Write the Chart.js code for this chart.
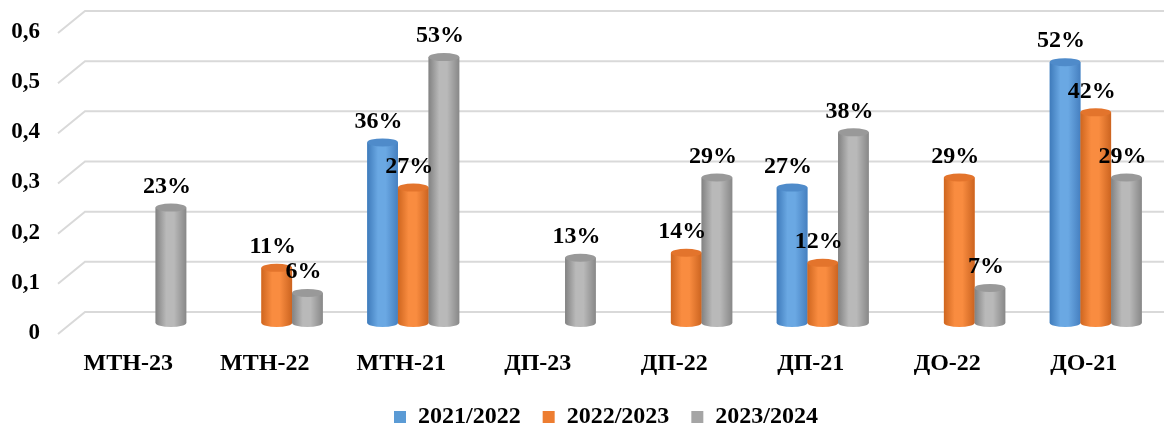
<!DOCTYPE html>
<html><head><meta charset="utf-8">
<script src="https://cdn.jsdelivr.net/npm/chart.js@4"></script>
<style>html,body{margin:0;padding:0;background:#fff}#wrap{width:1164px;height:428px}</style>
</head><body><div id="wrap"><canvas id="c" width="1164" height="428"></canvas></div>
<script>
const categories = ['МТН-23','МТН-22','МТН-21','ДП-23','ДП-22','ДП-21','ДО-22','ДО-21'];
const series2021 = [null, null, 0.36, null, null, 0.27, null, 0.52];
const series2022 = [null, 0.11, 0.27, null, 0.14, 0.12, 0.29, 0.42];
const series2023 = [0.23, 0.06, 0.53, 0.13, 0.29, 0.38, 0.07, 0.29];
const seriesNames = ['2021/2022', '2022/2023', '2023/2024'];
const yMin = 0, yMax = 0.6, yStep = 0.1;

const FONT = "'Liberation Serif','Times New Roman',serif";
const palette = [
  {flat:'#5B9BD5', edgeL:'#3f7bbb', hi:'#6aa8e3', edgeR:'#4680c0', cap:'#4f8bca'},
  {flat:'#ED7D31', edgeL:'#cf661f', hi:'#f98c40', edgeR:'#cc6420', cap:'#e3742c'},
  {flat:'#A5A5A5', edgeL:'#828282', hi:'#b9b9b9', edgeR:'#888888', cap:'#999999'}
];

const cylPlugin = {
  id: 'cyl',
  afterLayout(chart) {
    const lg = chart.legend;
    if (lg) { lg.left -= 12; lg.right -= 12; }
  },
  beforeDatasetsDraw(chart) {
    const ctx = chart.ctx, ys = chart.scales.y;
    ctx.save();
    ctx.strokeStyle = '#d9d9d9';
    ctx.lineWidth = 2;
    ys.ticks.forEach(t => {
      const yp = ys.getPixelForValue(t.value);
      ctx.beginPath();
      ctx.moveTo(58, yp + 11);
      ctx.lineTo(85, yp - 11);
      ctx.lineTo(chart.width, yp - 11);
      ctx.stroke();
    });
    ctx.restore();
  },
  afterDatasetsDraw(chart) {
    const ctx = chart.ctx;
    ctx.save();
    chart.data.datasets.forEach((ds, i) => {
      const meta = chart.getDatasetMeta(i);
      const p = palette[i];
      meta.data.forEach((el, j) => {
        if (ds.data[j] == null) return;
        const {x, y, base, width} = el.getProps(['x','y','base','width'], true);
        const l = x - width/2, r = x + width/2, rx = width/2, ry = 4;
        const g = ctx.createLinearGradient(l, 0, r, 0);
        g.addColorStop(0, p.edgeL);
        g.addColorStop(0.35, p.hi);
        g.addColorStop(0.6, p.hi);
        g.addColorStop(1, p.edgeR);
        ctx.fillStyle = g;
        ctx.beginPath();
        ctx.moveTo(l, y);
        ctx.lineTo(l, base);
        ctx.ellipse(x, base, rx, ry, 0, Math.PI, 0, true);
        ctx.lineTo(r, y);
        ctx.closePath();
        ctx.fill();
        ctx.fillStyle = p.cap;
        ctx.beginPath();
        ctx.ellipse(x, y, rx, ry, 0, 0, Math.PI*2);
        ctx.fill();
      });
    });
    // value labels
    ctx.fillStyle = '#000';
    ctx.font = "bold 24px " + FONT;
    ctx.textAlign = 'center';
    ctx.textBaseline = 'middle';
    chart.data.datasets.forEach((ds, i) => {
      const meta = chart.getDatasetMeta(i);
      meta.data.forEach((el, j) => {
        const v = ds.data[j];
        if (v == null) return;
        const {x, y} = el.getProps(['x','y'], true);
        ctx.fillText(Math.round(v*100) + '%', x - 4, y - 21);
      });
    });
    ctx.restore();
  }
};

new Chart(document.getElementById('c'), {
  type: 'bar',
  data: {
    labels: categories,
    datasets: [
      {label: seriesNames[0], data: series2021, backgroundColor: palette[0].flat},
      {label: seriesNames[1], data: series2022, backgroundColor: palette[1].flat},
      {label: seriesNames[2], data: series2023, backgroundColor: palette[2].flat}
    ]
  },
  options: {
    responsive: false,
    animation: false,
    layout: {padding: {top: 22, bottom: 0, left: 0, right: 0}},
    datasets: {bar: {categoryPercentage: 0.674, barPercentage: 1}},
    plugins: {
      tooltip: {enabled: false},
      legend: {
        position: 'bottom',
        fullSize: false,
        maxHeight: 45,
        labels: {
          boxWidth: 12, boxHeight: 12, padding: 22, color: '#000',
          font: {family: FONT, size: 24, weight: 'bold'}
        }
      }
    },
    scales: {
      x: {
        grid: {display: false, drawTicks: false},
        border: {display: false},
        ticks: {
          color: '#000', padding: 26, labelOffset: -12, maxRotation: 0, autoSkip: false,
          font: {family: FONT, size: 24, weight: 'bold'}
        },
        afterFit(s) { s.height = 60; s.paddingLeft = 0; s.paddingRight = 0; }
      },
      y: {
        min: yMin, max: yMax,
        grid: {display: false, drawTicks: false},
        border: {display: false},
        ticks: {
          stepSize: yStep, color: '#000', padding: 32, labelOffset: 10,
          font: {family: FONT, size: 23, weight: 'bold'},
          callback: v => v === 0 ? '0' : v.toFixed(1).replace('.', ',')
        },
        afterFit(s) { s.width = 72; s.paddingTop = 0; s.paddingBottom = 0; }
      }
    }
  },
  plugins: [cylPlugin]
});
</script>
</body></html>
